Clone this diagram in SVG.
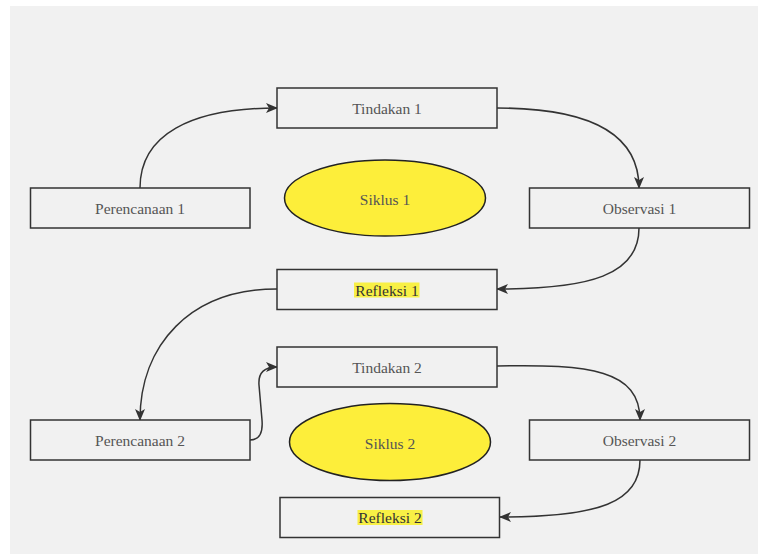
<svg xmlns="http://www.w3.org/2000/svg" width="758" height="554" viewBox="0 0 758 554">
<style>
.box{fill:#f1f1f1;stroke:#333;stroke-width:1.5}
.ell{fill:#fdee3a;stroke:#222;stroke-width:1.5}
text{font-family:'Liberation Serif','Times New Roman',Times,serif;font-size:15.5px;fill:#555;text-anchor:middle;dominant-baseline:central}
text.dk{fill:#333}
.hl{fill:#f8f045}
.edge{fill:none;stroke:#333;stroke-width:1.5}
</style>
<defs>
<marker id="arr" viewBox="0 0 12 10" refX="11" refY="5" markerWidth="12" markerHeight="10" markerUnits="userSpaceOnUse" orient="auto">
<path d="M0,0 L12,5 L0,10 L3,5 z" fill="#333"/>
</marker>
</defs>
<rect x="0" y="0" width="758" height="554" fill="#ffffff"/>
<rect x="10" y="6" width="748" height="548" fill="#f1f1f1"/>
<g id="connectors">
<path class="edge" marker-end="url(#arr)" d="M140,188 C140,135 190,108 277,108"/>
<path class="edge" marker-end="url(#arr)" d="M497,108 C600,108 639,140 639,188"/>
<path class="edge" marker-end="url(#arr)" d="M639,228 C639,275 590,289 497,289"/>
<path class="edge" marker-end="url(#arr)" d="M277,289 C190,289 140,345 140,420"/>
<path class="edge" marker-end="url(#arr)" d="M250,440 C260,440 263,432 262,420 L259,385 C258,372 265,367 277,367"/>
<path class="edge" marker-end="url(#arr)" d="M497,366 C590,364 640,370 640,420"/>
<path class="edge" marker-end="url(#arr)" d="M640,460 C640,502 600,517 500,517"/>
</g>
<g id="tindakan1"><rect class="box" x="277" y="88" width="220" height="40"/><text font-family="Liberation Serif, serif" x="387" y="108.5">Tindakan 1</text></g>
<g id="perencanaan1"><rect class="box" x="30.5" y="188" width="219.5" height="40"/><text font-family="Liberation Serif, serif" x="140" y="208.5">Perencanaan 1</text></g>
<g id="siklus1"><ellipse class="ell" cx="385" cy="198" rx="100.5" ry="38"/><text font-family="Liberation Serif, serif" x="385" y="199">Siklus 1</text></g>
<g id="observasi1"><rect class="box" x="529.5" y="188" width="220" height="40"/><text font-family="Liberation Serif, serif" x="639.5" y="208.5">Observasi 1</text></g>
<g id="refleksi1"><rect class="box" x="277" y="269.5" width="220" height="40"/><rect class="hl" x="354" y="282.5" width="65.5" height="15"/><text class="dk" font-family="Liberation Serif, serif" x="387" y="290">Refleksi 1</text></g>
<g id="tindakan2"><rect class="box" x="277" y="347" width="220" height="40"/><text font-family="Liberation Serif, serif" x="387" y="367">Tindakan 2</text></g>
<g id="perencanaan2"><rect class="box" x="30.5" y="420" width="219.5" height="40"/><text font-family="Liberation Serif, serif" x="140" y="440.5">Perencanaan 2</text></g>
<g id="siklus2"><ellipse class="ell" cx="390" cy="442" rx="100.5" ry="38.5"/><text font-family="Liberation Serif, serif" x="390" y="443">Siklus 2</text></g>
<g id="observasi2"><rect class="box" x="529.5" y="420" width="220" height="40"/><text font-family="Liberation Serif, serif" x="639.5" y="440.5">Observasi 2</text></g>
<g id="refleksi2"><rect class="box" x="280" y="497.5" width="219.5" height="40"/><rect class="hl" x="357.5" y="510" width="65" height="15"/><text class="dk" font-family="Liberation Serif, serif" x="390" y="517.5">Refleksi 2</text></g>
</svg>
